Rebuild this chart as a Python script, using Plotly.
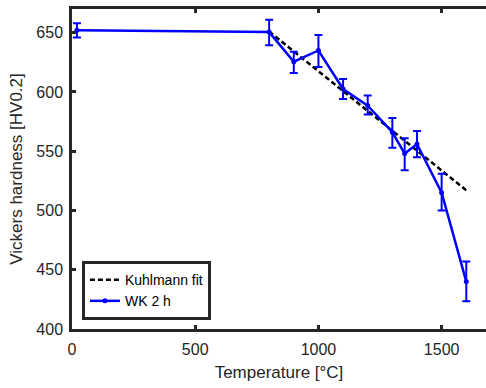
import plotly.graph_objects as go

temperature = [20, 800, 900, 1000, 1100, 1200, 1300, 1350, 1400, 1500, 1600]
hardness = [652, 650.5, 625.5, 635, 602.5, 588.5, 566, 548, 556, 515, 440]
err_plus = [6, 10.5, 8.5, 13, 8.5, 8.5, 12, 13, 11, 16, 17]
err_minus = [6, 11, 9.5, 14, 8.5, 7.5, 13, 14, 11, 15, 16.5]

fit_temperature = [800, 1600]
fit_hardness = [651, 517]

x_ticks = [0, 500, 1000, 1500]
y_ticks = [400, 450, 500, 550, 600, 650]

axis_color = "#262626"
font_family = "Liberation Sans, Arial, sans-serif"

fig = go.Figure()
fig.add_trace(go.Scatter(
    x=fit_temperature, y=fit_hardness, mode="lines",
    line=dict(color="black", width=2.5, dash="5px,3px"),
    name="Kuhlmann fit",
))
fig.add_trace(go.Scatter(
    x=temperature, y=hardness, mode="lines+markers",
    line=dict(color="#0000FF", width=2.5),
    marker=dict(color="#0000FF", size=5),
    error_y=dict(type="data", symmetric=False, array=err_plus, arrayminus=err_minus,
                 color="#0000FF", thickness=2, width=4),
    name="WK 2 h",
))

fig.update_layout(
    width=486, height=388,
    margin=dict(l=72, r=0, t=9, b=59),
    paper_bgcolor="white", plot_bgcolor="white",
    font=dict(family=font_family, size=16, color=axis_color),
    showlegend=True,
    legend=dict(
        x=0.024, y=0.028, xanchor="left", yanchor="bottom",
        bgcolor="white", bordercolor=axis_color, borderwidth=3,
        font=dict(size=14, color="black"),
        tracegroupgap=0, itemwidth=30,
    ),
)
fig.update_xaxes(
    range=[0, 1680], tickvals=x_ticks, ticks="inside", ticklen=4, tickwidth=2.5,
    tickcolor=axis_color, showline=True, linewidth=2.5, linecolor=axis_color,
    mirror="ticks", showgrid=False, zeroline=False,
    title=dict(text="Temperature [°C]", font=dict(size=17), standoff=10),
    tickfont=dict(size=16), ticklabelstandoff=4,
)
fig.update_yaxes(
    range=[400, 670], tickvals=y_ticks, ticks="inside", ticklen=4, tickwidth=2.5,
    tickcolor=axis_color, showline=True, linewidth=2.5, linecolor=axis_color,
    mirror=False, showgrid=False, zeroline=False,
    title=dict(text="Vickers hardness [HV0.2]", font=dict(size=17), standoff=10),
    tickfont=dict(size=16), ticklabelstandoff=3,
)

fig.write_html("out.html")
